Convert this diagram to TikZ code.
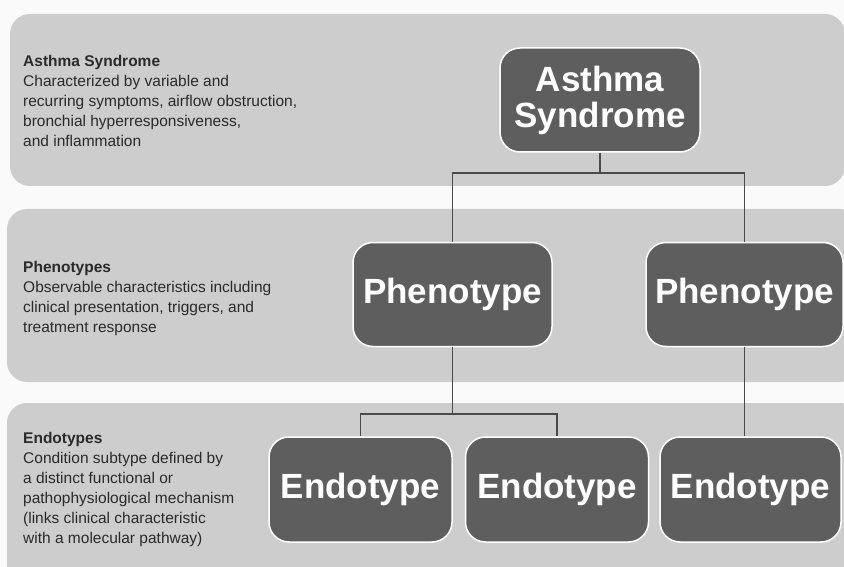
\documentclass[tikz,border=0pt]{standalone}
\usepackage{fontspec}
\setmainfont{Liberation Sans}
\usetikzlibrary{positioning}
\definecolor{pagegray}{HTML}{FAFAFA}
\definecolor{bandgray}{HTML}{CDCDCD}
\definecolor{boxgray}{HTML}{5E5E5E}
\definecolor{linkgray}{HTML}{4A4A4A}
\definecolor{textgray}{HTML}{2A2A2A}

\begin{document}
\begin{tikzpicture}[x=1pt, y=-1pt,
        band/.style={fill=bandgray, rounded corners=20pt},
        level/.style={anchor=north west, inner sep=0pt, align=left, text=textgray, font=\fontsize{15.5}{20}\selectfont},
        block/.style={rectangle, rounded corners=20pt, fill=boxgray, draw=white, line width=1.5pt, text=white, align=center, minimum width=199pt, minimum height=104pt, font=\bfseries\fontsize{35}{36}\selectfont},
        link/.style={draw=linkgray, line width=1.4pt}
    ]
        \fill[pagegray] (0,0) rectangle (844,567);
        \useasboundingbox (0,0) rectangle (844,567);

        % Bands
        \fill[band] (10,14) rectangle (845,186);
        \fill[band] (7,209) rectangle (860,382);
        \fill[band] (7,403) rectangle (860,590);

        % Level texts
        \node[level] (syndromeText) at (23,55) {\textbf{Asthma Syndrome}\\Characterized by variable and\\recurring symptoms, airflow obstruction,\\bronchial hyperresponsiveness,\\and inflammation};
        \node[level] (phenoText) at (23,261) {\textbf{Phenotypes}\\Observable characteristics including\\clinical presentation, triggers, and\\treatment response};
        \node[level] (endoText) at (23,432) {\textbf{Endotypes}\\Condition subtype defined by\\a distinct functional or\\pathophysiological mechanism\\(links clinical characteristic\\with a molecular pathway)};

        % Boxes
        \node[block, minimum width=200pt] (syndrome) at (600,100) {Asthma\\Syndrome};
        \node[block] (pheno1) at (452.5,294.5) {Phenotype};
        \node[block, minimum width=197pt] (pheno2) at (744.5,294.5) {Phenotype};
        \node[block, minimum width=183pt, minimum height=105pt] (endo1) at (360.5,489.5) {Endotype};
        \node[block, minimum width=183pt, minimum height=105pt, right=12pt of endo1] (endo2) {Endotype};
        \node[block, minimum width=181pt, minimum height=105pt, right=10pt of endo2] (endo3) {Endotype};

        % Links
        \coordinate (split1) at (600,173);
        \coordinate (split2) at (452.5,414);
        \draw[link] (syndrome) -- (split1);
        \draw[link] (split1) -| (pheno1);
        \draw[link] (split1) -| (pheno2);
        \draw[link] (pheno1) -- (split2);
        \draw[link] (split2) -| (endo1);
        \draw[link] (split2) -| (endo2);
        \draw[link] (pheno2) -- (pheno2 |- endo3.north);
    \end{tikzpicture}
\end{document}
